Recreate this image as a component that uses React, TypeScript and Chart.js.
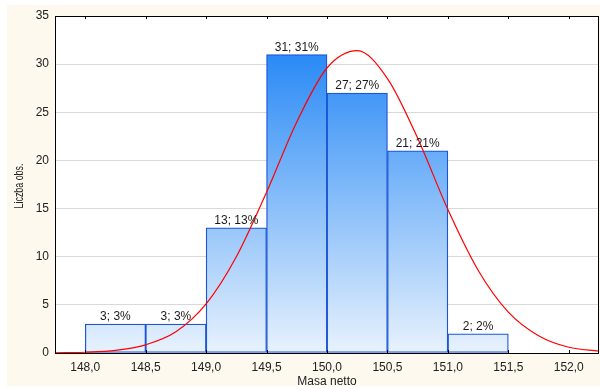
import React, { useEffect, useRef } from 'react';
import { Chart, registerables } from 'chart.js';

Chart.register(...registerables);

// Histogram bins (centres), counts
const binCenters = [148.25, 148.75, 149.25, 149.75, 150.25, 150.75, 151.25];
const counts = [3, 3, 13, 31, 27, 21, 2];

// Fitted normal curve
const curveX = [147.75, 148.0, 148.25, 148.5, 148.75, 149.0, 149.25, 149.5, 149.75, 150.0, 150.25, 150.5, 150.75, 151.0, 151.25, 151.5, 151.75, 152.0, 152.25];
const curveY = [0.02, 0.08, 0.27, 0.85, 2.2, 5.1, 10.0, 16.7, 24.0, 29.6, 31.4, 28.5, 22.3, 14.9, 8.6, 4.25, 1.8, 0.6, 0.2];

const xTickValues = [148.0, 148.5, 149.0, 149.5, 150.0, 150.5, 151.0, 151.5, 152.0];
const xTickLabels = ['148,0', '148,5', '149,0', '149,5', '150,0', '150,5', '151,0', '151,5', '152,0'];
const yTickValues = [0, 5, 10, 15, 20, 25, 30, 35];

const xTitle = 'Masa netto';
const yTitle = 'Liczba obs.';

const FONT = 'Arial, "Liberation Sans", sans-serif';

export default function App() {
  const ref = useRef<HTMLCanvasElement | null>(null);

  useEffect(() => {
    const canvas = ref.current;
    if (!canvas) return;
    const total = counts.reduce((a, b) => a + b, 0);

    const decor = {
      id: 'decor',
      beforeDraw(chart: any) {
        const { ctx, chartArea: a, width, height } = chart;
        ctx.save();
        ctx.fillStyle = '#ffffff';
        ctx.fillRect(0, 0, width, height);
        ctx.fillStyle = '#fdf9ee';
        ctx.fillRect(7, 5, width - 7, height - 8);
        ctx.fillStyle = '#ffffff';
        ctx.fillRect(a.left, a.top, a.right - a.left, a.bottom - a.top);
        ctx.restore();
      },
      afterDatasetsDraw(chart: any) {
        const { ctx, chartArea: a } = chart;
        const xs = chart.scales.x;
        ctx.save();
        // frame
        ctx.strokeStyle = '#000000';
        ctx.lineWidth = 1;
        ctx.strokeRect(a.left + 0.5, a.top + 0.5, a.right - a.left - 1, a.bottom - a.top);
        // inner tick marks
        xTickValues.forEach((v) => {
          const px = Math.round(xs.getPixelForValue(v)) + 0.5;
          ctx.beginPath();
          ctx.moveTo(px, a.top);
          ctx.lineTo(px, a.top + 3);
          ctx.moveTo(px, a.bottom);
          ctx.lineTo(px, a.bottom - 3);
          ctx.stroke();
        });
        // bar labels
        const meta = chart.getDatasetMeta(0);
        ctx.fillStyle = '#1a1a1a';
        ctx.font = '12px ' + FONT;
        ctx.textAlign = 'center';
        ctx.textBaseline = 'bottom';
        meta.data.forEach((el: any, i: number) => {
          const c = counts[i];
          const pct = Math.round((c / total) * 100);
          ctx.fillText(`${c}; ${pct}%`, el.x, el.y - 1);
        });
        // titles
        ctx.fillStyle = '#222222';
        ctx.textBaseline = 'middle';
        ctx.fillText(xTitle, 327, 382);
        ctx.save();
        ctx.translate(20, 186);
        ctx.rotate(-Math.PI / 2);
        ctx.scale(0.74, 1);
        ctx.fillText(yTitle, 0, 0);
        ctx.restore();
        ctx.restore();
      },
    };

    const chart = new Chart(canvas, {
      type: 'bar',
      data: {
        datasets: [
          {
            type: 'bar',
            data: binCenters.map((x, i) => ({ x, y: counts[i] })),
            order: 2,
            barPercentage: 1,
            categoryPercentage: 1,
            borderColor: '#1c56d6',
            borderWidth: 1.3,
            borderSkipped: false,
            backgroundColor: (ctx: any) => {
              const c = ctx.chart;
              const a = c.chartArea;
              if (!a) return '#8fc2fa';
              const ys = c.scales.y;
              const g = c.ctx.createLinearGradient(0, a.bottom, 0, ys.getPixelForValue(31));
              g.addColorStop(0, '#e8f2fd');
              g.addColorStop(1, '#2a8af6');
              return g;
            },
          } as any,
          {
            type: 'line',
            data: curveX.map((x, i) => ({ x, y: curveY[i] })),
            order: 1,
            borderColor: '#ff0000',
            borderWidth: 1.2,
            pointRadius: 0,
            cubicInterpolationMode: 'monotone',
            fill: false,
          } as any,
        ],
      },
      options: {
        responsive: false,
        animation: false,
        events: [],
        layout: { padding: { top: 16, right: 1, bottom: 0, left: 0 } },
        plugins: { legend: { display: false }, tooltip: { enabled: false } },
        scales: {
          x: {
            type: 'linear',
            min: 147.75,
            max: 152.25,
            offset: false,
            afterBuildTicks: (s: any) => {
              s.ticks = xTickValues.map((v) => ({ value: v }));
            },
            afterFit: (s: any) => {
              s.height = 36;
            },
            grid: { display: false, drawTicks: false },
            border: { display: false },
            ticks: {
              padding: 7,
              color: '#222222',
              font: { family: FONT, size: 12 },
              maxRotation: 0,
              autoSkip: false,
              callback: (v: any) => {
                const i = xTickValues.indexOf(Number(v));
                return i >= 0 ? xTickLabels[i] : '';
              },
            },
          },
          y: {
            min: 0,
            max: 35,
            afterBuildTicks: (s: any) => {
              s.ticks = yTickValues.map((v) => ({ value: v }));
            },
            afterFit: (s: any) => {
              s.width = 55;
            },
            grid: { color: '#d9d9d9', lineWidth: 1, drawTicks: false },
            border: { display: false },
            ticks: {
              padding: 6,
              color: '#222222',
              font: { family: FONT, size: 12 },
            },
          },
        },
      },
      plugins: [decor],
    } as any);

    return () => chart.destroy();
  }, []);

  return (
    <div style={{ position: 'absolute', left: 0, top: 0, width: 600, height: 389 }}>
      <canvas ref={ref} width={600} height={389} style={{ display: 'block', width: 600, height: 389 }} />
    </div>
  );
}
